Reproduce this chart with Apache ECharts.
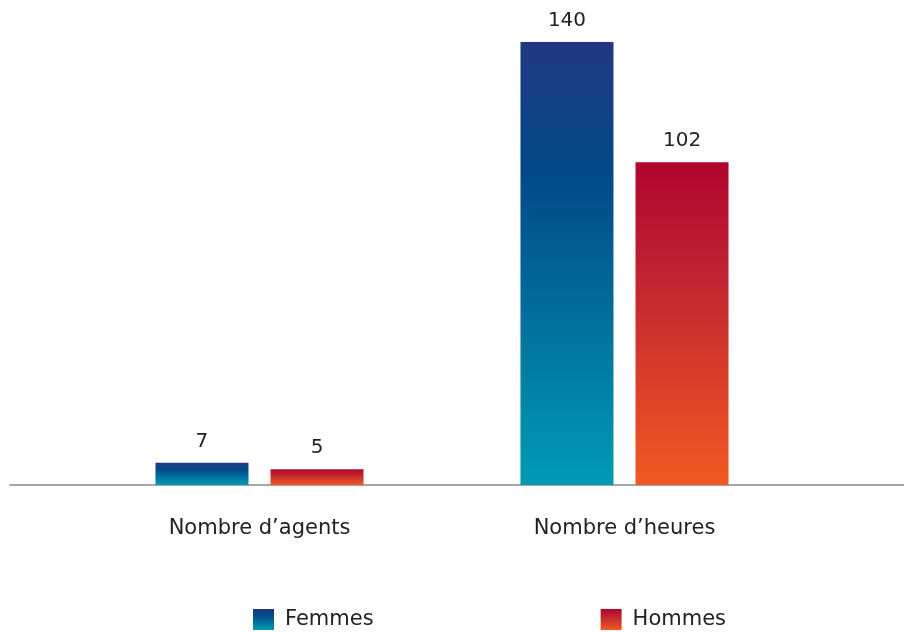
<!DOCTYPE html>
<html>
<head>
<meta charset="utf-8">
<script src="https://cdn.jsdelivr.net/npm/echarts@6/dist/echarts.min.js"></script>
<style>
  html, body { margin: 0; padding: 0; background: #fff; }
  #chart { width: 904px; height: 632px; }
</style>
</head>
<body>
<div id="chart"></div>
<script>
// données
var categories = ['Nombre d\u2019agents', 'Nombre d\u2019heures'];
var femmes = [7, 140];
var hommes = [5, 102];

var FONT = '"DejaVu Sans", sans-serif';

function grad(top, mid, bottom){
    return new echarts.graphic.LinearGradient(0, 0, 0, 1, [
        {offset: 0, color: top},
        {offset: 0.3, color: mid},
        {offset: 1, color: bottom}
    ]);
}

var chart = echarts.init(document.getElementById('chart'));

var option = {
    animation: false,
    legend: {
        bottom: -3,
        left: 248,
        itemWidth: 21,
        itemHeight: 21,
        itemGap: 227,
        icon: 'rect',
        textStyle: {fontFamily: FONT, fontSize: 21, color: '#222', padding: [0, 0, 0, 6]},
        data: ['Femmes', 'Hommes']
    },
    grid: [
        {left: 77, right: 97, top: 42, bottom: 147},
        // grille pour la ligne de base sur toute la largeur
        {left: 10, right: 0, top: 42, bottom: 147}
    ],
    xAxis: [
        {
            type: 'category',
            data: categories,
            gridIndex: 0,
            axisLine: {show: false},
            axisTick: {show: false},
            axisLabel: {fontFamily: FONT, fontSize: 21, color: '#222', margin: 33}
        },
        {
            type: 'category',
            data: [''],
            gridIndex: 1,
            axisLine: {show: true, lineStyle: {color: '#a8a6a4', width: 2}},
            axisTick: {show: false},
            axisLabel: {show: false}
        }
    ],
    yAxis: [
        {type: 'value', gridIndex: 0, min: 0, max: 140, show: false, splitLine: {show: false}},
        {type: 'value', gridIndex: 1, min: 0, max: 140, show: false, splitLine: {show: false}}
    ],
    series: [
        {
            name: 'Femmes',
            type: 'bar',
            data: femmes,
            barWidth: 93,
            barGap: '23.7%',
            itemStyle: {color: grad('#213880', '#004a87', '#009bb3')},
            label: {show: true, position: 'top', distance: 11, fontFamily: FONT, fontSize: 20, color: '#222'}
        },
        {
            name: 'Hommes',
            type: 'bar',
            data: hommes,
            barWidth: 93,
            barGap: '23.7%',
            itemStyle: {color: grad('#b0052f', '#bd1f31', '#f05a22')},
            label: {show: true, position: 'top', distance: 11, fontFamily: FONT, fontSize: 20, color: '#222'}
        }
    ]
};
chart.setOption(option);
</script>
</body>
</html>
